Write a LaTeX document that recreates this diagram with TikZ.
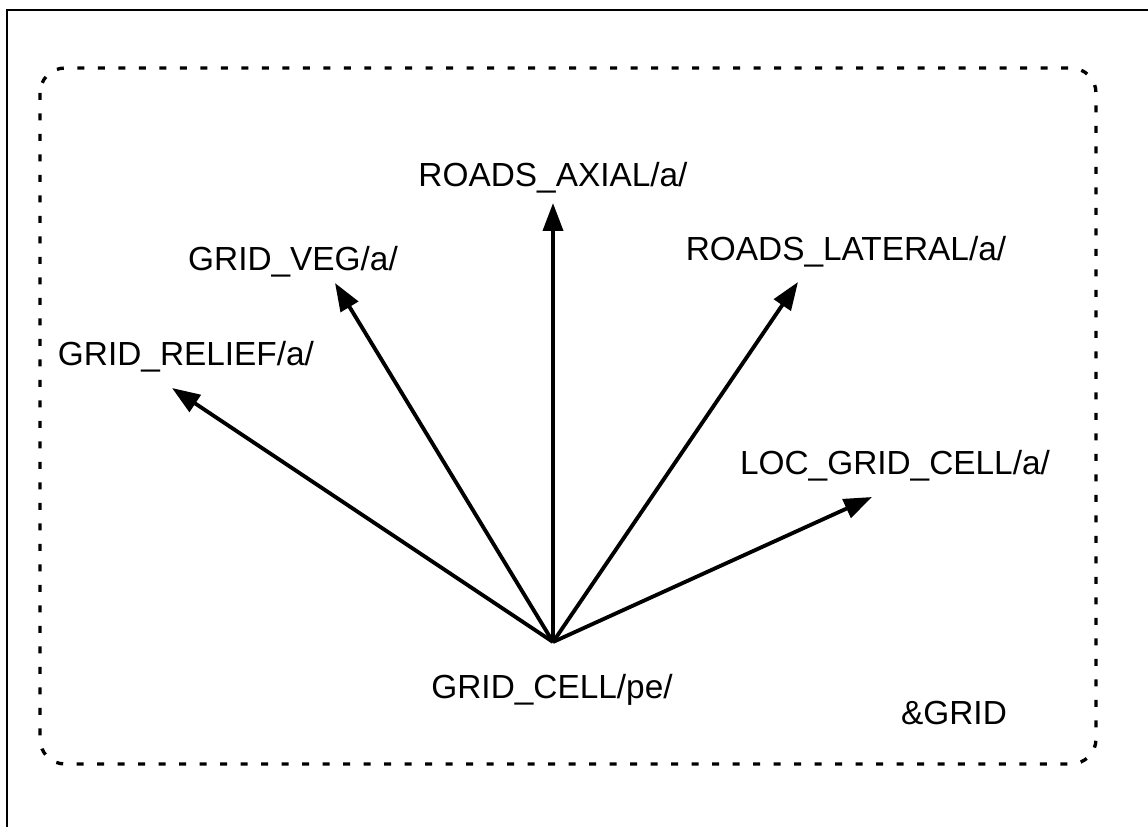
\documentclass[tikz,border=0pt]{standalone}
\usepackage{fontspec}
\setmainfont{Liberation Sans}
\usetikzlibrary{arrows.meta}

\tikzset{
  lbl/.style={inner sep=0pt, font=\fontsize{19pt}{22pt}\selectfont},
  arr/.style={line width=2.2pt, -{Triangle[length=0.56cm, width=0.4cm]}},
  grpbox/.style={line width=1.9pt, dash pattern=on 0.14cm off 0.27cm, rounded corners=0.5cm}
}

\begin{document}
\begin{tikzpicture}[x=0.02cm, y=-0.02cm]
\useasboundingbox (0,0) rectangle (1148,827);

% frame
\draw[line width=1.1pt] (7,827) -- (7,10) -- (1148,10);

% group box
\draw[grpbox] (40,68) rectangle (1096,764);

% hub and arrow tips
\coordinate (hub) at (553,642);
\coordinate (taxial) at (553,203);
\coordinate (tveg) at (335,283);
\coordinate (trelief) at (172,388);
\coordinate (tlateral) at (798,282);
\coordinate (tloc) at (872,497);

  \node[lbl] (axial) at (553,178) {ROADS\_AXIAL/a/};
  \node[lbl] (veg) at (293,262) {GRID\_VEG/a/};
  \node[lbl] (relief) at (186,357) {GRID\_RELIEF/a/};
  \node[lbl] (lateral) at (846,252) {ROADS\_LATERAL/a/};
  \node[lbl] (loc) at (895,466) {LOC\_GRID\_CELL/a/};
  \node[lbl] (cell) at (552,690) {GRID\_CELL/pe/};
  \node[lbl] (grid) at (954,713) {\&GRID};

\draw[arr] (hub) -- (taxial);
\draw[arr] (hub) -- (tveg);
\draw[arr] (hub) -- (trelief);
\draw[arr] (hub) -- (tlateral);
\draw[arr] (hub) -- (tloc);
\end{tikzpicture}
\end{document}
